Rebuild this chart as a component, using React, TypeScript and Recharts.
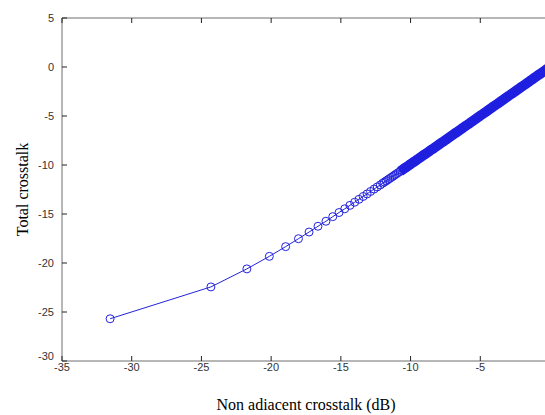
import React from "react"
import { LineChart, Line, XAxis, YAxis } from "recharts"

// x: non adjacent crosstalk (dB), y: total crosstalk
const xValues = [
  -31.55, -24.32, -21.74, -20.13, -18.96, -18.04, -17.28, -16.64, -16.07, -15.58,
  -15.13, -14.72, -14.35, -14.01, -13.7, -13.4, -13.12, -12.87, -12.62, -12.39,
  -12.17, -12.0, -11.875, -11.75, -11.625, -11.5, -11.375, -11.25, -11.125, -11.0,
  -10.875, -10.75, -10.625, -10.5, -10.375, -10.25, -10.125, -10.0, -9.875, -9.75,
  -9.625, -9.5, -9.375, -9.25, -9.125, -9.0, -8.875, -8.75, -8.625, -8.5,
  -8.375, -8.25, -8.125, -8.0, -7.875, -7.75, -7.625, -7.5, -7.375, -7.25,
  -7.125, -7.0, -6.875, -6.75, -6.625, -6.5, -6.375, -6.25, -6.125, -6.0,
  -5.875, -5.75, -5.625, -5.5, -5.375, -5.25, -5.125, -5.0, -4.875, -4.75,
  -4.625, -4.5, -4.375, -4.25, -4.125, -4.0, -3.875, -3.75, -3.625, -3.5,
  -3.375, -3.25, -3.125, -3.0, -2.875, -2.75, -2.625, -2.5, -2.375, -2.25,
  -2.125, -2.0, -1.875, -1.75, -1.625, -1.5, -1.375, -1.25, -1.125, -1.0,
  -0.875, -0.75, -0.625, -0.5, -0.375, -0.25, -0.125, 0.0,
]
const yValues = [
  -25.69, -22.44, -20.6, -19.32, -18.33, -17.52, -16.84, -16.25, -15.74, -15.27,
  -14.85, -14.47, -14.12, -13.8, -13.5, -13.21, -12.95, -12.7, -12.46, -12.24,
  -12.03, -11.86, -11.74, -11.62, -11.5, -11.38, -11.26, -11.14, -11.01, -10.89,
  -10.77, -10.65, -10.53, -10.4, -10.28, -10.16, -10.04, -9.91, -9.79, -9.67,
  -9.55, -9.42, -9.3, -9.18, -9.05, -8.93, -8.81, -8.69, -8.56, -8.44,
  -8.32, -8.19, -8.07, -7.95, -7.82, -7.7, -7.58, -7.45, -7.33, -7.2,
  -7.08, -6.96, -6.83, -6.71, -6.59, -6.46, -6.34, -6.21, -6.09, -5.97,
  -5.84, -5.72, -5.59, -5.47, -5.35, -5.22, -5.1, -4.97, -4.85, -4.72,
  -4.6, -4.48, -4.35, -4.23, -4.1, -3.98, -3.85, -3.73, -3.61, -3.48,
  -3.36, -3.23, -3.11, -2.98, -2.86, -2.73, -2.61, -2.49, -2.36, -2.24,
  -2.11, -1.99, -1.86, -1.74, -1.61, -1.49, -1.36, -1.24, -1.11, -0.99,
  -0.86, -0.74, -0.62, -0.49, -0.37, -0.24, -0.12, 0.01,
]
const xTicks = [-35, -30, -25, -20, -15, -10, -5, 0]
const yTicks = [-30, -25, -20, -15, -10, -5, 0, 5]

// where the markers overlap into one solid band
const bandStart = -10.75

const data = xValues.map((x, i) => ({
  x,
  y: yValues[i],
  band: x >= bandStart ? yValues[i] : null,
}))

const tickFont = "'Liberation Sans', Arial, sans-serif"
const labelFont = "'Liberation Serif', 'Times New Roman', serif"
const axisColor = "#6e6e6e"
const blue = "#2222dd"
const bandBlue = "#1414f0"

const BottomTick = (props: any) => {
  const { x, y, payload } = props
  return (
    <g>
      <line x1={x} x2={x} y1={y} y2={y - 5} stroke="#222" />
      {payload.value !== 0 && (
        <text x={x} y={y + 10} textAnchor="middle" fontSize={11} fontFamily={tickFont} fill="#333">
          {payload.value}
        </text>
      )}
    </g>
  )
}

const TopTick = (props: any) => {
  const { x, y } = props
  return <line x1={x} x2={x} y1={y} y2={y + 5} stroke="#222" />
}

const LeftTick = (props: any) => {
  const { x, y, payload } = props
  return (
    <g>
      <line x1={x} x2={x + 5} y1={y} y2={y} stroke="#222" />
      <text
        x={x - 8}
        y={payload.value === -30 ? y - 1 : y + 4}
        textAnchor="end"
        fontSize={11}
        fontFamily={tickFont}
        fill="#333"
      >
        {payload.value}
      </text>
    </g>
  )
}

const RightTick = (props: any) => {
  const { x, y } = props
  return <line x1={x} x2={x - 5} y1={y} y2={y} stroke="#222" />
}

export default function App() {
  return (
    <div style={{ position: "absolute", left: 0, top: 0, width: 545, height: 415, overflow: "hidden", background: "#fff" }}>
      <LineChart width={560} height={415} data={data} margin={{ top: 0, right: 0, bottom: 0, left: 0 }}>
        <XAxis
          xAxisId={0}
          dataKey="x"
          type="number"
          domain={[-35, 0]}
          ticks={xTicks}
          height={54}
          tickSize={0}
          tickMargin={0}
          tick={<BottomTick />}
          stroke={axisColor}
          label={{
            value: "Non adiacent crosstalk (dB)",
            position: "insideBottom",
            offset: 5,
            fontSize: 16,
            fontFamily: labelFont,
            fill: "#000",
          }}
        />
        <XAxis
          xAxisId={1}
          dataKey="x"
          type="number"
          orientation="top"
          domain={[-35, 0]}
          ticks={xTicks}
          height={18}
          tickSize={0}
          tickMargin={0}
          tick={<TopTick />}
          axisLine={{ stroke: axisColor }}
          stroke={axisColor}
        />
        <YAxis
          yAxisId={0}
          type="number"
          domain={[-30, 5]}
          ticks={yTicks}
          width={62}
          tickSize={0}
          tickMargin={0}
          tick={<LeftTick />}
          stroke={axisColor}
          label={{
            content: (p: any) => {
              const vb = p.viewBox
              const cx = 22
              const cy = vb.y + vb.height / 2
              return (
                <text
                  x={cx}
                  y={cy}
                  transform={`rotate(-90 ${cx} ${cy})`}
                  textAnchor="middle"
                  dominantBaseline="central"
                  fontSize={16}
                  fontFamily={labelFont}
                  fill="#000"
                >
                  Total crosstalk
                </text>
              )
            },
          }}
        />
        <YAxis
          yAxisId={1}
          orientation="right"
          type="number"
          domain={[-30, 5]}
          ticks={yTicks}
          width={10}
          tickSize={0}
          tickMargin={0}
          tick={<RightTick />}
          axisLine={{ stroke: axisColor }}
          stroke={axisColor}
        />
        <Line
          xAxisId={0}
          yAxisId={0}
          type="linear"
          dataKey="band"
          stroke={bandBlue}
          strokeWidth={10}
          dot={false}
          activeDot={false}
          isAnimationActive={false}
        />
        <Line
          xAxisId={0}
          yAxisId={0}
          type="linear"
          dataKey="y"
          stroke={blue}
          strokeWidth={1}
          dot={{ r: 4, stroke: blue, strokeWidth: 1, fill: "none" }}
          activeDot={false}
          isAnimationActive={false}
        />
        <Line
          xAxisId={1}
          yAxisId={1}
          type="linear"
          dataKey="y"
          stroke="none"
          dot={false}
          activeDot={false}
          isAnimationActive={false}
        />
      </LineChart>
    </div>
  )
}
